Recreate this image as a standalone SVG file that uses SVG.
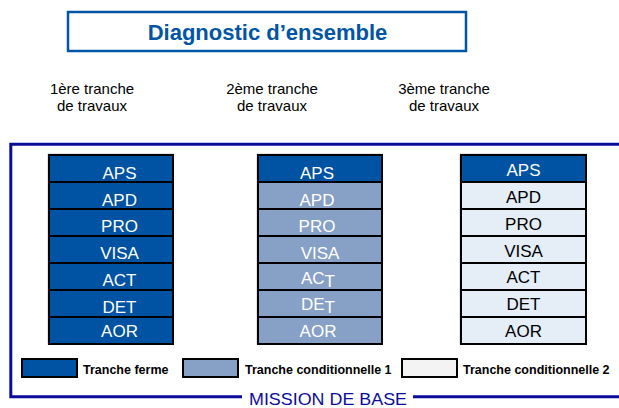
<svg xmlns="http://www.w3.org/2000/svg" width="619" height="408" viewBox="0 0 619 408">
<style>
  text { font-family: "Liberation Sans", Arial, sans-serif; }
  .title { font-size: 22px; font-weight: bold; fill: #0055a5; text-anchor: middle; }
  .head { font-size: 15px; fill: #000; text-anchor: middle; }
  .cell { stroke: #000; stroke-width: 2; }
  .dark { fill: #0052a2; }
  .mid { fill: #87a0c6; }
  .light { fill: #e5edf6; }
  .lbl { font-size: 17px; text-anchor: middle; }
  .w { fill: #fff; }
  .b { fill: #000; }
  .leg { font-size: 12.5px; font-weight: bold; fill: #000; }
  .frame { stroke: #0c0c9c; stroke-width: 3; fill: none; }
  .shadow { fill: #c8c8c8; }
</style>

<g id="title">
  <rect x="68" y="12" width="398" height="39" fill="#fff" stroke="#0055a5" stroke-width="2.5"/>
  <text class="title" x="267.5" y="39.5">Diagnostic d’ensemble</text>
</g>

<g id="headers">
  <text class="head" x="92" y="93.5">1ère tranche</text>
  <text class="head" x="92" y="110.5">de travaux</text>
  <text class="head" x="272" y="93.5">2ème tranche</text>
  <text class="head" x="272" y="110.5">de travaux</text>
  <text class="head" x="444" y="93.5">3ème tranche</text>
  <text class="head" x="444" y="110.5">de travaux</text>
</g>

<g id="connectors">
  <path class="frame" d="M619,144.2 H10.8 V396.7 H242"/>
  <path class="frame" d="M413,396.7 H619"/>
</g>

<g id="mission-label">
  <text x="249" y="405" font-size="17" textLength="158" lengthAdjust="spacingAndGlyphs" fill="#0c0c9c">MISSION DE BASE</text>
</g>

<!-- Column 1 -->
<g id="col1">
  <rect class="shadow" x="47.5" y="153.5" width="126" height="191"/>
  <g id="c1-aps"><rect class="cell dark" x="49" y="155" width="124" height="27"/><text class="lbl w" x="119.5" y="179">APS</text></g>
  <g id="c1-apd"><rect class="cell dark" x="49" y="182" width="124" height="27"/><text class="lbl w" x="119.5" y="206">APD</text></g>
  <g id="c1-pro"><rect class="cell dark" x="49" y="209" width="124" height="27"/><text class="lbl w" x="119.5" y="232">PRO</text></g>
  <g id="c1-visa"><rect class="cell dark" x="49" y="236" width="124" height="27"/><text class="lbl w" x="119.5" y="258.5">VISA</text></g>
  <g id="c1-act"><rect class="cell dark" x="49" y="263" width="124" height="27"/><text class="lbl w" x="119.5" y="285.5">ACT</text></g>
  <g id="c1-det"><rect class="cell dark" x="49" y="290" width="124" height="27"/><text class="lbl w" x="119.5" y="312.5">DET</text></g>
  <g id="c1-aor"><rect class="cell dark" x="49" y="317" width="124" height="27"/><text class="lbl w" x="119.5" y="336.5">AOR</text></g>
</g>

<!-- Column 2 -->
<g id="col2">
  <rect class="shadow" x="256.5" y="153.5" width="126" height="191"/>
  <g id="c2-aps"><rect class="cell dark" x="258" y="155" width="124" height="27"/><text class="lbl w" x="317" y="179">APS</text></g>
  <g id="c2-apd"><rect class="cell mid" x="258" y="182" width="124" height="27"/><text class="lbl w" x="317" y="205.5">APD</text></g>
  <g id="c2-pro"><rect class="cell mid" x="258" y="209" width="124" height="27"/><text class="lbl w" x="317" y="232">PRO</text></g>
  <g id="c2-visa"><rect class="cell mid" x="258" y="236" width="124" height="27"/><text class="lbl w" x="320" y="258.5">VISA</text></g>
  <g id="c2-act"><rect class="cell mid" x="258" y="263" width="124" height="27"/><text class="lbl w" x="318" y="283.5">AC<tspan dy="3">T</tspan></text></g>
  <g id="c2-det"><rect class="cell mid" x="258" y="290" width="124" height="27"/><text class="lbl w" x="318" y="310">DE<tspan dy="3">T</tspan></text></g>
  <g id="c2-aor"><rect class="cell mid" x="258" y="317" width="124" height="27"/><text class="lbl w" x="318" y="336.5">AOR</text></g>
</g>

<!-- Column 3 -->
<g id="col3">
  <rect class="shadow" x="459.5" y="153.5" width="127" height="191"/>
  <g id="c3-aps"><rect class="cell dark" x="461" y="155" width="125" height="27"/><text class="lbl w" x="523.5" y="176">APS</text></g>
  <g id="c3-apd"><rect class="cell light" x="461" y="182" width="125" height="27"/><text class="lbl b" x="523.5" y="203">APD</text></g>
  <g id="c3-pro"><rect class="cell light" x="461" y="209" width="125" height="27"/><text class="lbl b" x="523.5" y="230">PRO</text></g>
  <g id="c3-visa"><rect class="cell light" x="461" y="236" width="125" height="27"/><text class="lbl b" x="523.5" y="257">VISA</text></g>
  <g id="c3-act"><rect class="cell light" x="461" y="263" width="125" height="27"/><text class="lbl b" x="523.5" y="283">ACT</text></g>
  <g id="c3-det"><rect class="cell light" x="461" y="290" width="125" height="27"/><text class="lbl b" x="523.5" y="310">DET</text></g>
  <g id="c3-aor"><rect class="cell light" x="461" y="317" width="125" height="27"/><text class="lbl b" x="523.5" y="337">AOR</text></g>
</g>

<!-- Legend -->
<g id="legend-ferme">
  <rect class="cell dark" x="22" y="359" width="55" height="18" stroke-width="1.5"/>
  <text class="leg" x="83" y="374">Tranche ferme</text>
</g>
<g id="legend-cond1">
  <rect class="cell mid" x="183" y="359" width="55" height="18" stroke-width="1.5"/>
  <text class="leg" x="245" y="374">Tranche conditionnelle 1</text>
</g>
<g id="legend-cond2">
  <rect class="cell" fill="#f3f3f3" x="402" y="359" width="55" height="18" stroke-width="1.5"/>
  <text class="leg" x="463" y="374">Tranche conditionnelle 2</text>
</g>
</svg>
